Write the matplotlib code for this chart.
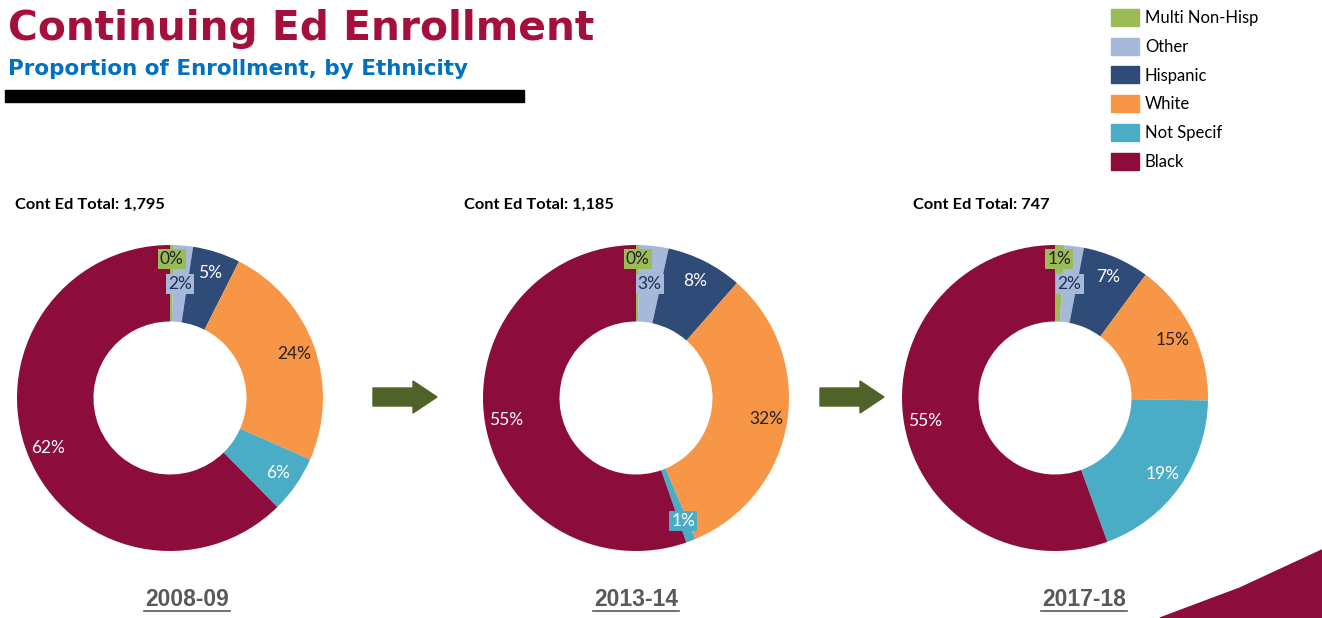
import numpy as np
import matplotlib
matplotlib.use("Agg")
import matplotlib.pyplot as plt
import matplotlib.patches as mpatches
from matplotlib.transforms import IdentityTransform

# data
categories = ["Multi Non-Hisp", "Other", "Hispanic", "White", "Not Specif", "Black"]
years = ["2008-09", "2013-14", "2017-18"]
totals = ["1,795", "1,185", "747"]
shares = [
    [0.4, 2, 5, 24, 6, 62],
    [0.4, 3, 8, 32, 1, 55],
    [1, 2, 7, 15, 19, 55],
]

colors = ["#9BBB59", "#A7B9DA", "#2F4B78", "#F79646", "#4BACC6", "#8C0C3C"]
label_colors = ["#222222", "#1F3050", "white", "#222222", "white", "white"]

W, H = 1322, 618
fig = plt.figure(figsize=(W / 100, H / 100), dpi=100)

# title block
fig.text(8 / W, 1 - 29 / H, "Continuing Ed Enrollment", fontsize=29.3, fontweight="bold",
         color="#A50F3C", family="DejaVu Sans", va="center", ha="left")
fig.text(8 / W, 1 - 69 / H, "Proportion of Enrollment, by Ethnicity", fontsize=15.5,
         fontweight="bold", color="#0070C0", family="DejaVu Sans", va="center", ha="left")
fig.patches.append(mpatches.Rectangle((5, H - 102), 519, 12, color="black",
                                      transform=IdentityTransform(), figure=fig))

# legend
handles = [mpatches.Patch(color=c, label=l) for c, l in zip(colors, categories)]
fig.legend(handles=handles, loc="upper left", bbox_to_anchor=(1104 / W, 1 - 2 / H),
           frameon=False, prop={"family": "Lato", "size": 12}, handlelength=1.7,
           handleheight=1.2, labelspacing=0.70, handletextpad=0.35, borderaxespad=0)

centers = [170, 636, 1055]
cy = 398
R = 153
label_r = [0.91, 0.75, 0.86, 0.86, 0.86, 0.86]
year_x = [187, 636, 1084]
total_x = [15, 464, 913]

for i, vals in enumerate(shares):
    cx = centers[i]
    ax = fig.add_axes([(cx - R) / W, (H - cy - R) / H, 2 * R / W, 2 * R / H])
    wedges, _ = ax.pie(vals, colors=colors, startangle=90, counterclock=False,
                       radius=1, wedgeprops=dict(width=0.5, edgecolor="none"))
    ax.set_xlim(-1, 1)
    ax.set_ylim(-1, 1)
    ax.set_aspect("equal")
    ax.axis("off")
    for j, w in enumerate(wedges):
        ang = np.deg2rad((w.theta1 + w.theta2) / 2)
        x = label_r[j] * np.cos(ang)
        y = label_r[j] * np.sin(ang)
        txt = f"{vals[j]:.0f}%"
        boxed = j < 2 or vals[j] <= 3
        bbox = dict(boxstyle="square,pad=0.12", fc=colors[j], ec="none") if boxed else None
        ax.text(x, y, txt, ha="center", va="center", fontsize=12.5, family="Lato",
                color=label_colors[j], bbox=bbox, zorder=5)

    fig.text(total_x[i] / W, 1 - 205 / H, f"Cont Ed Total: {totals[i]}", fontsize=11.8,
             fontweight="bold", family="Lato", ha="left", va="center", color="black")

    # year label with underline
    fig.text(year_x[i] / W, 1 - 600 / H, years[i], fontsize=16.5, fontweight="bold",
             family="Liberation Sans", color="#595959", ha="center", va="center")
    fig.add_artist(plt.Line2D([(year_x[i] - 43) / W, (year_x[i] + 43) / W],
                              [1 - 611 / H, 1 - 611 / H], color="#595959", lw=1.2))

# arrows between years
for x0 in [373, 820]:
    fig.patches.append(mpatches.FancyArrow(x0, H - 397, 40, 0, width=18, head_width=32,
                                           head_length=24, length_includes_head=False,
                                           color="#4F6228", transform=IdentityTransform(),
                                           figure=fig))

# decorative swoosh bottom right
fig.patches.append(mpatches.Polygon([(1160, 0), (1240, 30), (1322, 68), (1322, 0)],
                                    closed=True, color="#8C0C3C",
                                    transform=IdentityTransform(), figure=fig))

fig.savefig("out.png", dpi=100)
